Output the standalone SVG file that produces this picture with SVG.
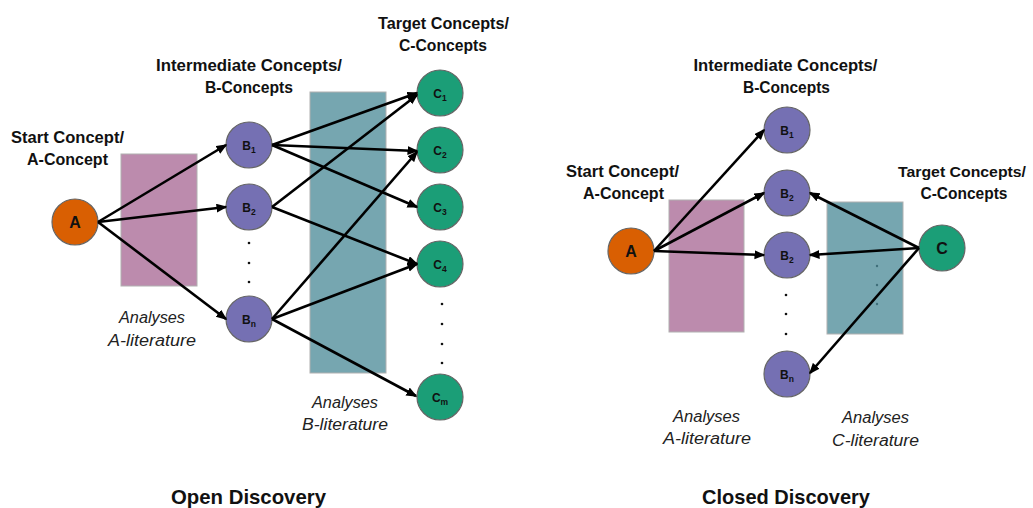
<svg xmlns="http://www.w3.org/2000/svg" width="1033" height="508" viewBox="0 0 1033 508">
<defs>
<style>
.hdr{font-family:"Liberation Sans",Arial,sans-serif;font-weight:bold;font-size:17px;fill:#111;text-anchor:middle}
.hdrs{font-size:15.5px}
.ttl{font-family:"Liberation Sans",Arial,sans-serif;font-weight:bold;font-size:21px;fill:#111;text-anchor:middle}
.lit{font-family:"Liberation Sans",Arial,sans-serif;font-style:italic;font-size:16px;fill:#222;text-anchor:middle}
.nlab{font-family:"Liberation Sans",Arial,sans-serif;font-weight:bold;font-size:12px;fill:#111;text-anchor:middle}
.big{font-family:"Liberation Sans",Arial,sans-serif;font-weight:bold;font-size:16px;fill:#111;text-anchor:middle}
.a{fill:#D95F02;stroke:#666;stroke-width:1.2}
.b{fill:#7570B3;stroke:#666;stroke-width:1.2}
.c{fill:#1B9E77;stroke:#666;stroke-width:1.2}
.pink{fill:#BC8BAD;stroke:#b0b0b0;stroke-width:1}
.teal{fill:#76A6B0;stroke:#b0b0b0;stroke-width:1}
.dot{fill:#111}
.tdot{fill:#3f6f7a}
.edge{stroke:#000;stroke-width:2.6;fill:none;marker-end:url(#arr)}
</style>
<marker id="arr" markerUnits="userSpaceOnUse" markerWidth="11" markerHeight="10" refX="9.5" refY="4.5" orient="auto">
<path d="M0,0 L11,4.5 L0,9 z" fill="#000"/>
</marker>
</defs>
<rect width="1033" height="508" fill="#fff"/>

<!-- literature rectangles -->
<g id="rects">
<rect class="pink" x="121" y="154" width="76" height="132"/>
<rect class="teal" x="310" y="92" width="76" height="281"/>
<rect class="pink" x="669" y="200" width="75" height="132"/>
<rect class="teal" x="827" y="202" width="76" height="132"/>
<circle class="tdot" cx="877" cy="266" r="1.2"/>
<circle class="tdot" cx="877" cy="285" r="1.2"/>
<circle class="tdot" cx="877" cy="304" r="1.2"/>
</g>

<!-- labels -->
<g id="labels">
<text class="hdr" x="67.5" y="143" textLength="113" lengthAdjust="spacingAndGlyphs">Start Concept/</text>
<text class="hdr" x="67.5" y="165" textLength="81" lengthAdjust="spacingAndGlyphs">A-Concept</text>
<text class="hdr" x="249" y="71" textLength="186" lengthAdjust="spacingAndGlyphs">Intermediate Concepts/</text>
<text class="hdr" x="249" y="93" textLength="88" lengthAdjust="spacingAndGlyphs">B-Concepts</text>
<text class="hdr" x="443.5" y="29" textLength="131" lengthAdjust="spacingAndGlyphs">Target Concepts/</text>
<text class="hdr" x="443" y="51" textLength="88" lengthAdjust="spacingAndGlyphs">C-Concepts</text>
<text class="lit" x="152" y="323" textLength="66" lengthAdjust="spacingAndGlyphs">Analyses</text>
<text class="lit" x="152" y="346" textLength="88" lengthAdjust="spacingAndGlyphs">A-literature</text>
<text class="lit" x="345" y="408" textLength="66" lengthAdjust="spacingAndGlyphs">Analyses</text>
<text class="lit" x="345" y="430" textLength="86" lengthAdjust="spacingAndGlyphs">B-literature</text>
<text class="ttl" x="248.5" y="504" textLength="155" lengthAdjust="spacingAndGlyphs">Open Discovery</text>

<text class="hdr" x="785.5" y="71" textLength="184" lengthAdjust="spacingAndGlyphs">Intermediate Concepts/</text>
<text class="hdr" x="786.5" y="93" textLength="87" lengthAdjust="spacingAndGlyphs">B-Concepts</text>
<text class="hdr" x="622.5" y="177" textLength="113" lengthAdjust="spacingAndGlyphs">Start Concept/</text>
<text class="hdr" x="623.5" y="199" textLength="81" lengthAdjust="spacingAndGlyphs">A-Concept</text>
<text class="hdr hdrs" x="962" y="177" textLength="128" lengthAdjust="spacingAndGlyphs">Target Concepts/</text>
<text class="hdr" x="964" y="199" textLength="87" lengthAdjust="spacingAndGlyphs">C-Concepts</text>
<text class="lit" x="706.5" y="422" textLength="67" lengthAdjust="spacingAndGlyphs">Analyses</text>
<text class="lit" x="707" y="444" textLength="88" lengthAdjust="spacingAndGlyphs">A-literature</text>
<text class="lit" x="875.5" y="423" textLength="67" lengthAdjust="spacingAndGlyphs">Analyses</text>
<text class="lit" x="875.5" y="446" textLength="87" lengthAdjust="spacingAndGlyphs">C-literature</text>
<text class="ttl" x="786" y="504" textLength="168" lengthAdjust="spacingAndGlyphs">Closed Discovery</text>
</g>

<!-- ellipsis dots -->
<g id="dots">
<circle class="dot" cx="249" cy="243" r="1.3"/>
<circle class="dot" cx="249" cy="263" r="1.3"/>
<circle class="dot" cx="249" cy="282" r="1.3"/>
<circle class="dot" cx="442" cy="304" r="1.3"/>
<circle class="dot" cx="442" cy="324" r="1.3"/>
<circle class="dot" cx="442" cy="344" r="1.3"/>
<circle class="dot" cx="442" cy="363" r="1.3"/>
<circle class="dot" cx="786" cy="295" r="1.3"/>
<circle class="dot" cx="786" cy="314" r="1.3"/>
<circle class="dot" cx="786" cy="334" r="1.3"/>
</g>

<!-- nodes: open discovery -->
<g id="open-A"><circle class="a" cx="75" cy="222" r="23"/><text class="big" x="75" y="228">A</text></g>
<g id="open-B1"><circle class="b" cx="249" cy="145" r="23"/><text class="nlab" x="249" y="149.5">B<tspan font-size="8.5" dy="3">1</tspan></text></g>
<g id="open-B2"><circle class="b" cx="249" cy="207" r="23"/><text class="nlab" x="249" y="211.5">B<tspan font-size="8.5" dy="3">2</tspan></text></g>
<g id="open-Bn"><circle class="b" cx="249" cy="319" r="23"/><text class="nlab" x="249" y="323.5">B<tspan font-size="8.5" dy="3">n</tspan></text></g>
<g id="open-C1"><circle class="c" cx="440" cy="93" r="23"/><text class="nlab" x="440" y="97.5">C<tspan font-size="8.5" dy="3">1</tspan></text></g>
<g id="open-C2"><circle class="c" cx="440" cy="150" r="23"/><text class="nlab" x="440" y="154.5">C<tspan font-size="8.5" dy="3">2</tspan></text></g>
<g id="open-C3"><circle class="c" cx="440" cy="207" r="23"/><text class="nlab" x="440" y="211.5">C<tspan font-size="8.5" dy="3">3</tspan></text></g>
<g id="open-C4"><circle class="c" cx="440" cy="264" r="23"/><text class="nlab" x="440" y="268.5">C<tspan font-size="8.5" dy="3">4</tspan></text></g>
<g id="open-Cm"><circle class="c" cx="440" cy="397" r="23"/><text class="nlab" x="440" y="401.5">C<tspan font-size="8.5" dy="3">m</tspan></text></g>

<!-- nodes: closed discovery -->
<g id="closed-A"><circle class="a" cx="631" cy="251" r="23"/><text class="big" x="631" y="257">A</text></g>
<g id="closed-B1"><circle class="b" cx="787" cy="130" r="23"/><text class="nlab" x="787" y="134.5">B<tspan font-size="8.5" dy="3">1</tspan></text></g>
<g id="closed-B2a"><circle class="b" cx="787" cy="193" r="23"/><text class="nlab" x="787" y="197.5">B<tspan font-size="8.5" dy="3">2</tspan></text></g>
<g id="closed-B2b"><circle class="b" cx="787" cy="255" r="23"/><text class="nlab" x="787" y="259.5">B<tspan font-size="8.5" dy="3">2</tspan></text></g>
<g id="closed-Bn"><circle class="b" cx="787" cy="374" r="23"/><text class="nlab" x="787" y="378.5">B<tspan font-size="8.5" dy="3">n</tspan></text></g>
<g id="closed-C"><circle class="c" cx="942" cy="248" r="23"/><text class="big" x="942" y="254">C</text></g>

<!-- connectors -->
<g id="connectors">
<line class="edge" x1="98" y1="222" x2="226" y2="145"/>
<line class="edge" x1="98" y1="222" x2="226" y2="207"/>
<line class="edge" x1="98" y1="222" x2="226" y2="319"/>
<line class="edge" x1="272" y1="145" x2="417" y2="93"/>
<line class="edge" x1="272" y1="145" x2="417" y2="151"/>
<line class="edge" x1="272" y1="145" x2="417" y2="207"/>
<line class="edge" x1="272" y1="207" x2="417" y2="95"/>
<line class="edge" x1="272" y1="207" x2="417" y2="264"/>
<line class="edge" x1="272" y1="319" x2="417" y2="152"/>
<line class="edge" x1="272" y1="319" x2="417" y2="264"/>
<line class="edge" x1="272" y1="319" x2="416" y2="396"/>

<line class="edge" x1="654" y1="251" x2="764" y2="130"/>
<line class="edge" x1="654" y1="251" x2="764" y2="193"/>
<line class="edge" x1="654" y1="251" x2="764" y2="255"/>
<line class="edge" x1="919" y1="248" x2="810" y2="193"/>
<line class="edge" x1="919" y1="248" x2="810" y2="255"/>
<line class="edge" x1="919" y1="248" x2="810" y2="373"/>
</g>
</svg>
